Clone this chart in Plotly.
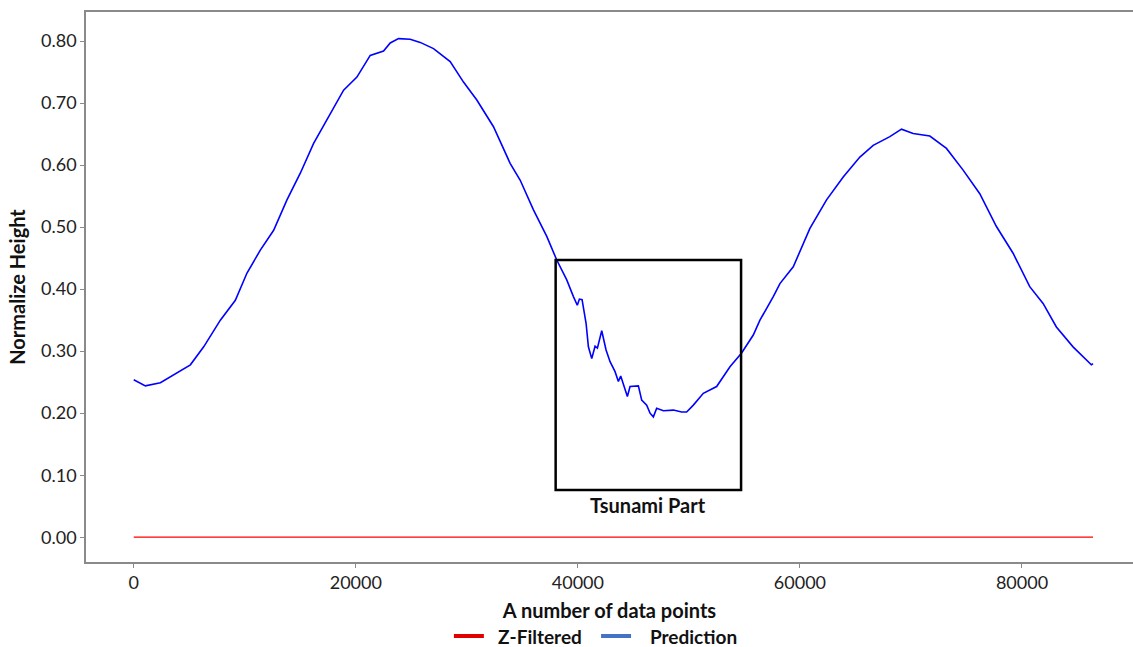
import plotly.graph_objects as go

# Prediction curve
pred_x = [0, 1050, 2400, 3600, 5100, 6300, 7800, 9150, 10200, 11400, 12600, 13800,
          15000, 16200, 17700, 18900, 20100, 21300, 22500, 23100, 23850, 24900, 25800,
          27000, 28500, 29700, 30900, 32400, 33900, 34800, 36000, 37200, 38100,
          39000, 39600, 39950, 40140, 40380, 40740, 40950, 41250, 41550, 41760, 42150,
          42540, 42900, 43350, 43650, 43860, 44160, 44460, 44700, 45150, 45450, 45750,
          46200, 46500, 46800, 47100, 47700, 48600, 49350, 49800, 50400, 51300, 52500,
          53700, 54750, 55800, 56400, 57600, 58200, 59400, 60900, 62400, 63900, 65400,
          66600, 68100, 69150, 70200, 71700, 73200, 74700, 76200, 77700, 79200, 80700,
          81900, 83100, 84600, 86250, 86400]
pred_y = [0.254, 0.244, 0.249, 0.262, 0.278, 0.307, 0.350, 0.382, 0.426, 0.463, 0.495, 0.544,
          0.587, 0.635, 0.683, 0.721, 0.742, 0.777, 0.784, 0.797, 0.804, 0.803, 0.798,
          0.788, 0.767, 0.734, 0.705, 0.662, 0.603, 0.576, 0.528, 0.485, 0.447,
          0.415, 0.388, 0.374, 0.384, 0.383, 0.345, 0.307, 0.288, 0.308, 0.305, 0.333,
          0.302, 0.283, 0.267, 0.251, 0.260, 0.243, 0.227, 0.243, 0.244, 0.244, 0.221,
          0.213, 0.200, 0.194, 0.208, 0.204, 0.205, 0.202, 0.202, 0.213, 0.232, 0.243,
          0.275, 0.297, 0.326, 0.350, 0.388, 0.409, 0.436, 0.498, 0.544, 0.581, 0.613,
          0.632, 0.646, 0.658, 0.651, 0.647, 0.627, 0.592, 0.554, 0.501, 0.458, 0.404,
          0.377, 0.339, 0.307, 0.278, 0.280]

# Z-Filtered series
zf_x = [0, 86400]
zf_y = [0.0, 0.0]

x_ticks = [0, 20000, 40000, 60000, 80000]
y_ticks = [0.0, 0.1, 0.2, 0.3, 0.4, 0.5, 0.6, 0.7, 0.8]

# Tsunami box bounds
box_x = [38000, 54700]
box_y = [0.076, 0.447]

FONT = "Lato"
NB = "\u00a0"

fig = go.Figure()
fig.add_trace(go.Scatter(x=zf_x, y=zf_y, mode="lines", line=dict(color="#ff0000", width=1.3),
                         showlegend=False))
fig.add_trace(go.Scatter(x=pred_x, y=pred_y, mode="lines", line=dict(color="#0000ff", width=1.6),
                         showlegend=False))
# legend entries
fig.add_trace(go.Scatter(x=[None], y=[None], mode="lines", name=NB * 2 + "Z-Filtered" + NB * 2,
                         line=dict(color="#e00000", width=4)))
fig.add_trace(go.Scatter(x=[None], y=[None], mode="lines", name=NB * 3 + "Prediction",
                         line=dict(color="#4472c4", width=4)))

fig.add_shape(type="rect", x0=box_x[0], x1=box_x[1], y0=box_y[0], y1=box_y[1],
              xref="x", yref="y", line=dict(color="#000000", width=2.5))
fig.add_annotation(x=(box_x[0] + box_x[1]) / 2, y=box_y[0], xref="x", yref="y",
                   text="<b>Tsunami Part</b>", showarrow=False, yanchor="top", yshift=-1,
                   font=dict(family=FONT, size=20, color="#111111"))

fig.update_layout(
    width=1133, height=647,
    margin=dict(l=86, r=0, t=12, b=85, autoexpand=False),
    plot_bgcolor="white", paper_bgcolor="white",
    font=dict(family=FONT, color="#222222"),
    legend=dict(orientation="h", x=0.487, xanchor="center", y=-0.135, yanchor="middle",
                font=dict(family=FONT, size=19, color="#111111", weight="bold"),
                tracegroupgap=0),
)
fig.update_xaxes(range=[-4300, 90000], tickvals=x_ticks, ticktext=[str(v) for v in x_ticks],
                 showgrid=False, zeroline=False, showline=True, linecolor="#8a8a8a", linewidth=1.5,
                 mirror=True, ticks="outside", ticklen=4, tickcolor="#8a8a8a",
                 tickfont=dict(family=FONT, size=18, color="#222222"),
                 title=dict(text="<b>A number of data points</b>", standoff=12,
                            font=dict(family=FONT, size=20, color="#111111")))
fig.update_yaxes(range=[-0.04, 0.847], tickvals=y_ticks, ticktext=[f"{v:.2f}" for v in y_ticks],
                 showgrid=False, zeroline=False, showline=True, linecolor="#8a8a8a", linewidth=1.5,
                 ticks="outside", ticklen=4, tickcolor="#8a8a8a",
                 tickfont=dict(family=FONT, size=18, color="#222222"),
                 title=dict(text="<b>Normalize Height</b>", standoff=10,
                            font=dict(family=FONT, size=20, color="#111111")))

fig.write_html("out.html")
